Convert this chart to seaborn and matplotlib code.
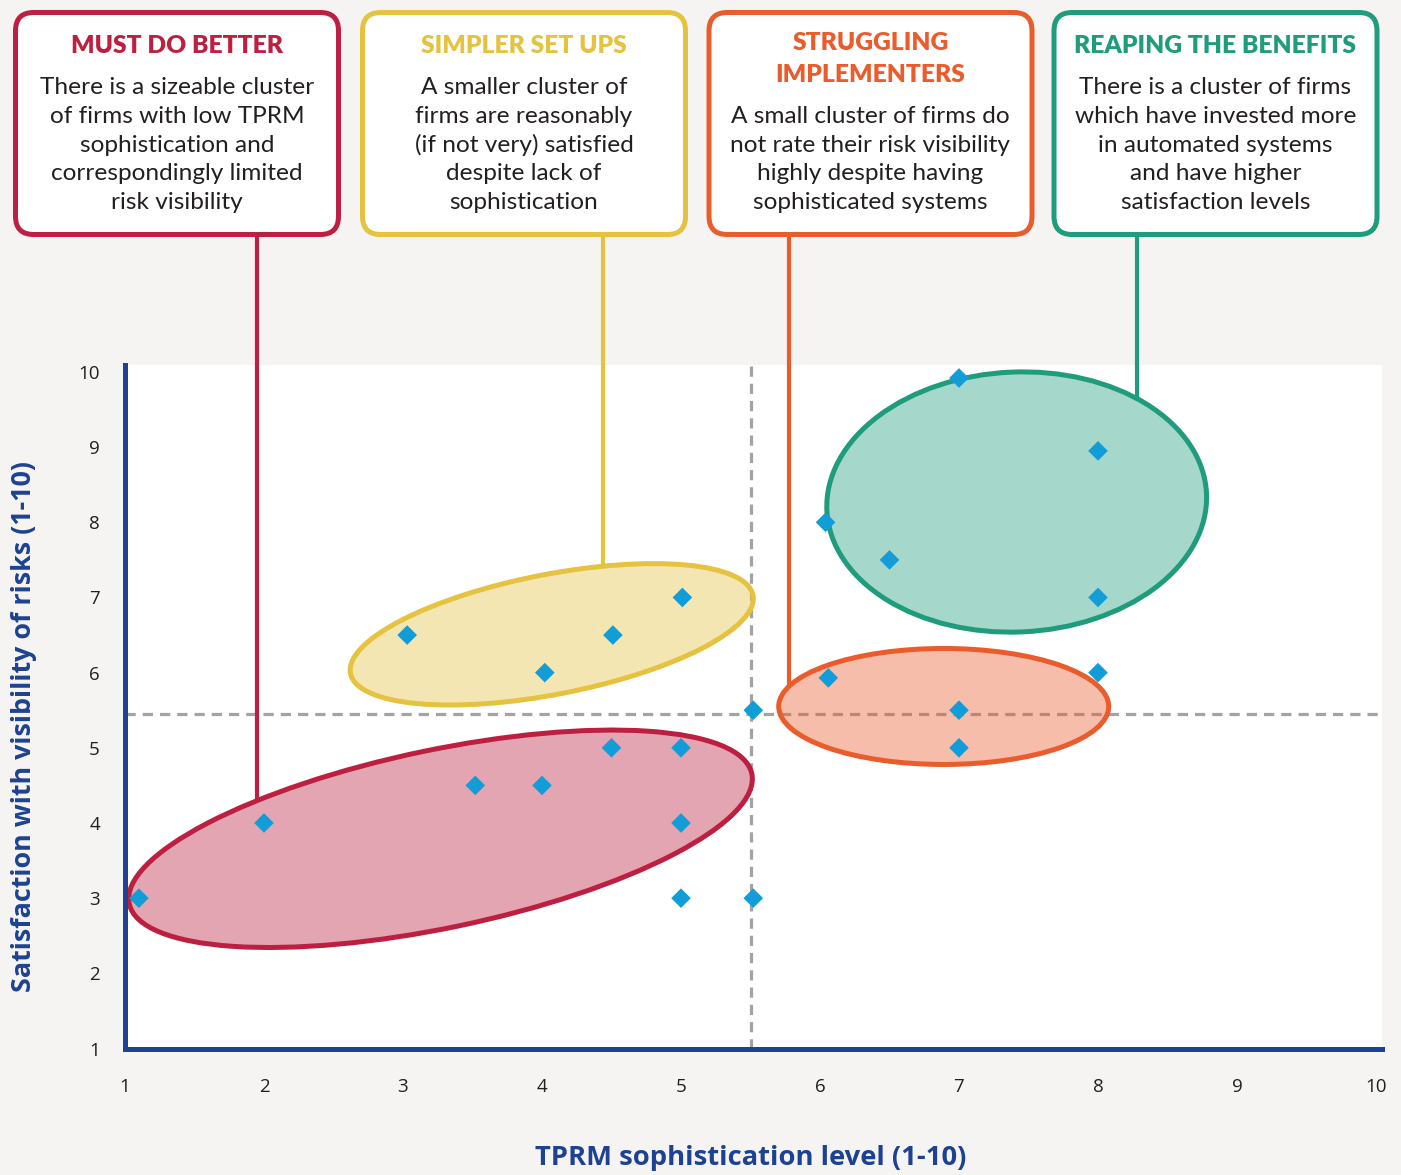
import numpy as np
import matplotlib
matplotlib.use("Agg")
import matplotlib.pyplot as plt
from matplotlib.patches import Ellipse, FancyBboxPatch
from matplotlib.transforms import Affine2D
import seaborn as sns

# ---- survey responses: TPRM sophistication vs satisfaction with risk visibility
sophistication = [1.1, 2.0, 3.03, 4.02, 4.51, 5.01, 3.52, 4.0, 4.5, 5.0, 5.0, 5.0, 5.52,
                  5.52, 6.04, 6.5, 7.0, 8.0, 8.0, 8.0, 6.06, 7.0, 7.0]
satisfaction = [3.0, 4.0, 6.5, 6.0, 6.5, 7.0, 4.5, 4.5, 5.0, 5.0, 4.0, 3.0, 3.0,
                5.5, 8.0, 7.5, 9.92, 8.95, 7.0, 6.0, 5.93, 5.5, 5.0]

# averages splitting the chart into quadrants
mean_sophistication = 5.5
mean_satisfaction = 5.45

# cluster outlines: centre (data units), semi-axes (px), tilt (deg)
cluster_names = ["MUST DO BETTER", "SIMPLER SET UPS", "STRUGGLING\nIMPLEMENTERS", "REAPING THE BENEFITS"]
cluster_centre_x = [3.27, 4.07, 6.89, 7.415]
cluster_centre_y = [3.79, 6.51, 5.55, 8.27]
cluster_semi_a = [318, 205, 165, 190]
cluster_semi_b = [89, 60, 58, 130]
cluster_tilt = [11.8, 11.0, 0.0, 2.5]
cluster_colors = ["#bd1f40", "#e5c23f", "#ea5c2b", "#1f9c7c"]
cluster_text = [
    ["There is a sizeable cluster", "of firms with low TPRM", "sophistication and",
     "correspondingly limited", "risk visibility"],
    ["A smaller cluster of", "firms are reasonably", "(if not very) satisfied",
     "despite lack of", "sophistication"],
    ["A small cluster of firms do", "not rate their risk visibility",
     "highly despite having", "sophisticated systems"],
    ["There is a cluster of firms", "which have invested more", "in automated systems",
     "and have higher", "satisfaction levels"],
]
connector_x = [1.95, 4.44, 5.78, 8.28]

x_ticks = list(range(1, 11))
y_ticks = list(range(1, 11))
x_title = "TPRM sophistication level (1-10)"
y_title = "Satisfaction with visibility of risks (1-10)"

# ---- styling
sns.set_theme(style="white")
BG = "#f5f4f2"
NAVY = "#1d4291"
POINT = "#139dd8"
TEXT = "#231f20"
plt.rcParams["font.family"] = ["Open Sans", "DejaVu Sans"]
BOX_FONT = ["Lato", "DejaVu Sans"]

W, H = 1401, 1175
fig = plt.figure(figsize=(W / 100, H / 100), dpi=100, facecolor=BG)


def fx(x):
    return x / W


def fy(y):
    return 1 - y / H


ax_l, ax_r, ax_t, ax_b = 125, 1382, 365, 1048.5
ax = fig.add_axes([fx(ax_l), fy(ax_b), (ax_r - ax_l) / W, (ax_b - ax_t) / H])
ax.set_facecolor("white")
px_x = 139.0
px_y = 75.17
ax.set_xlim(1, 1 + (ax_r - ax_l) / px_x)
ax.set_ylim(1, 1 + (ax_b - ax_t) / px_y)

for side in ["top", "right"]:
    ax.spines[side].set_visible(False)
for side in ["left", "bottom"]:
    ax.spines[side].set_color(NAVY)
    ax.spines[side].set_linewidth(3.6)
ax.set_xticks(x_ticks)
ax.set_yticks(y_ticks)
ax.set_xticklabels([str(t) for t in x_ticks])
ax.set_yticklabels([str(t) for t in y_ticks])
ax.tick_params(axis="x", length=0, pad=21, labelsize=13.5, labelcolor=TEXT)
ax.tick_params(axis="y", length=0, pad=18, labelsize=13.5, labelcolor=TEXT)
ax.grid(False)

# quadrant dividers
ax.axvline(mean_sophistication, color="#a3a3a3", lw=2.3, dashes=(3.2, 2.2), zorder=1)
ax.axhline(mean_satisfaction, color="#a3a3a3", lw=2.3, dashes=(3.2, 2.2), zorder=1)

# cluster ellipses, drawn in pixel units then mapped onto the data scale
to_data = Affine2D().scale(1 / px_x, 1 / px_y)
for cx, cy, a, b, t, c in zip(cluster_centre_x, cluster_centre_y, cluster_semi_a,
                              cluster_semi_b, cluster_tilt, cluster_colors):
    tr = to_data + Affine2D().translate(cx, cy) + ax.transData
    ax.add_patch(Ellipse((0, 0), 2 * a, 2 * b, angle=t, facecolor=c, alpha=0.4,
                         edgecolor="none", transform=tr, zorder=2))
    ax.add_patch(Ellipse((0, 0), 2 * a, 2 * b, angle=t, facecolor="none",
                         edgecolor=c, lw=3.6, transform=tr, zorder=2.5))

sns.scatterplot(x=sophistication, y=satisfaction, marker="D", s=100, color=POINT,
                edgecolor="none", linewidth=0, ax=ax, zorder=4, legend=False)


def ellipse_top(cx, cy, a, b, t, x):
    """Upper crossing (data y) of a vertical line at data x with a tilted ellipse."""
    th = np.radians(t)
    dx = (x - cx) * px_x
    s, c = np.sin(th), np.cos(th)
    A = s ** 2 / a ** 2 + c ** 2 / b ** 2
    B = 2 * dx * s * c * (1 / a ** 2 - 1 / b ** 2)
    C = dx ** 2 * (c ** 2 / a ** 2 + s ** 2 / b ** 2) - 1
    dy = (-B + np.sqrt(B ** 2 - 4 * A * C)) / (2 * A)
    return cy + dy / px_y


# call-out boxes
box_x0 = [15.5, 362.5, 709, 1054]
box_w, box_top, box_bot = 323, 12.5, 234.5
for i in range(4):
    c = cluster_colors[i]
    fig.patches.append(FancyBboxPatch(
        (fx(box_x0[i]), fy(box_bot)), box_w / W, (box_bot - box_top) / H,
        boxstyle="round,pad=0,rounding_size=0.013", transform=fig.transFigure,
        facecolor="white", edgecolor=c, lw=3.6, zorder=3, mutation_aspect=W / H))
    xc = fx(box_x0[i] + box_w / 2)
    title_lines = cluster_names[i].split("\n")
    base0 = 53.3 if len(title_lines) == 1 else 50
    for j, ln in enumerate(title_lines):
        fig.text(xc, fy(base0 + 31.7 * j), ln, ha="center", va="baseline",
                 color=c, fontsize=17.7, fontweight="heavy", family=BOX_FONT, zorder=4)
    body = cluster_text[i]
    n = len(body)
    for j, ln in enumerate(body):
        fig.text(xc, fy(209.3 - 28.9 * (n - 1 - j)), ln, ha="center", va="baseline",
                 color=TEXT, fontsize=17.6, family=BOX_FONT, zorder=4)
    # connector from the box down to the cluster outline
    xd = connector_x[i]
    y_end = ellipse_top(cluster_centre_x[i], cluster_centre_y[i], cluster_semi_a[i],
                        cluster_semi_b[i], cluster_tilt[i], xd)
    y_start = 1 + (ax_b - box_bot) / px_y
    ax.plot([xd, xd], [y_start, y_end], color=c, lw=3.0, clip_on=False, zorder=2.6,
            solid_capstyle="butt")

fig.text(fx(751), fy(1158), x_title, ha="center", va="center", color=NAVY,
         fontsize=19.7, fontweight="bold")
fig.text(fx(24), fy(726), y_title, ha="center", va="center", rotation=90,
         color=NAVY, fontsize=19.4, fontweight="bold")

fig.savefig("out.png", dpi=100, facecolor=BG)
